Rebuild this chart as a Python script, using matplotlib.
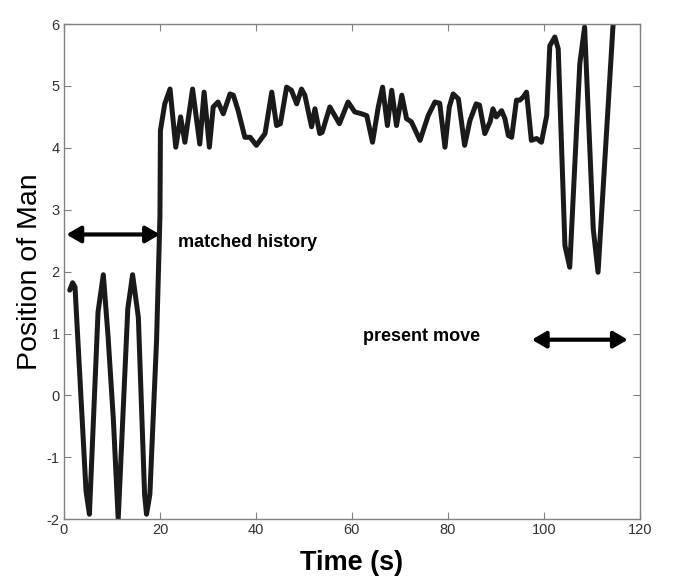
import matplotlib
matplotlib.use("Agg")
import matplotlib.pyplot as plt

plt.rcParams['font.family'] = ['Liberation Sans', 'DejaVu Sans']
plt.rcParams['axes.unicode_minus'] = False

# Trajectory vertices (time in s, position)
time_s = [1.2, 1.8, 2.3, 4.6, 5.3, 7.1, 8.2, 9.2, 10.3, 11.3, 13.3, 14.3, 15.5, 16.8, 17.2,
          17.9, 19.3, 20.0, 20.1, 21.0, 22.1, 23.3, 24.3, 25.2, 26.8, 28.3, 29.2, 30.3,
          31.1, 32.1, 33.2, 34.6, 35.3, 36.3, 37.7, 38.8, 40.1, 41.9, 43.3, 44.3, 45.1,
          46.4, 47.4, 48.5, 49.5, 50.2, 51.6, 52.3, 53.3, 53.8, 55.4, 57.4, 59.2, 60.6,
          62.0, 63.1, 64.3, 65.5, 66.4, 67.4, 68.3, 69.3, 70.4, 71.4, 72.4, 74.2, 75.9,
          77.3, 78.3, 79.4, 80.3, 81.1, 82.2, 83.5, 84.6, 85.9, 86.6, 87.7, 88.8, 89.4,
          90.1, 91.2, 91.9, 92.6, 93.3, 94.3, 95.0, 95.7, 96.4, 97.4, 98.5, 99.5, 100.6,
          101.25, 102.3, 103.0, 104.4, 105.4, 107.5, 108.5, 110.3, 111.3, 114.4, 115.2]
position = [1.7, 1.82, 1.75, -1.55, -1.92, 1.35, 1.95, 0.94, -0.4, -2.0, 1.4, 1.95, 1.26, -1.6, -1.92,
            -1.6, 0.9, 2.9, 4.28, 4.71, 4.95, 4.01, 4.5, 4.09, 4.95, 4.06, 4.9, 4.01,
            4.66, 4.74, 4.55, 4.87, 4.85, 4.6, 4.17, 4.17, 4.04, 4.23, 4.9, 4.36, 4.39,
            4.98, 4.93, 4.71, 4.95, 4.85, 4.34, 4.63, 4.23, 4.25, 4.66, 4.39, 4.74, 4.58,
            4.55, 4.52, 4.09, 4.66, 4.98, 4.36, 4.93, 4.36, 4.85, 4.47, 4.42, 4.12, 4.52,
            4.74, 4.72, 4.01, 4.66, 4.87, 4.79, 4.04, 4.44, 4.71, 4.69, 4.23, 4.42, 4.63,
            4.5, 4.6, 4.47, 4.2, 4.17, 4.77, 4.77, 4.82, 4.9, 4.12, 4.15, 4.09, 4.52,
            5.65, 5.79, 5.6, 2.42, 2.07, 5.36, 5.95, 2.69, 1.99, 5.95, 6.6]

x_ticks = [0, 20, 40, 60, 80, 100, 120]
y_ticks = [-2, -1, 0, 1, 2, 3, 4, 5, 6]

history_arrow = (0.5, 20.0, 2.6)
present_arrow = (97.5, 117.5, 0.9)

fig = plt.figure(figsize=(6.85, 5.86), dpi=100)
ax = fig.add_axes([0.0934, 0.114, 0.8406, 0.845])

ax.plot(time_s, position, color='#1a1a1a', lw=3.6, solid_joinstyle='round',
        solid_capstyle='round', clip_on=True)

ax.set_xlim(0, 120)
ax.set_ylim(-2, 6)
ax.set_xticks(x_ticks)
ax.set_yticks(y_ticks)
ax.tick_params(direction='in', top=True, right=True, length=5, width=0.8,
               color='#808080', labelsize=10.5, labelcolor='#333333', pad=3)
for s in ax.spines.values():
    s.set_color('#808080')
    s.set_linewidth(1.0)

arrowprops = dict(arrowstyle='<|-|>,head_length=0.6,head_width=0.35', color='black',
                  lw=3.0, shrinkA=0, shrinkB=0, mutation_scale=14)
ax.annotate('', xy=(history_arrow[0], history_arrow[2]), xytext=(history_arrow[1], history_arrow[2]),
            arrowprops=arrowprops)
ax.annotate('', xy=(present_arrow[0], present_arrow[2]), xytext=(present_arrow[1], present_arrow[2]),
            arrowprops=arrowprops)

ax.text(23.8, 2.47, 'matched history', fontsize=13, fontweight='bold', va='center', ha='left')
ax.text(62.3, 0.95, 'present move', fontsize=13, fontweight='bold', va='center', ha='left')

ax.set_xlabel('Time (s)', fontsize=19.5, fontweight='bold', labelpad=9)
ax.set_ylabel('Position of Man', fontsize=20.5, labelpad=3)

fig.savefig('out.png', dpi=100)
